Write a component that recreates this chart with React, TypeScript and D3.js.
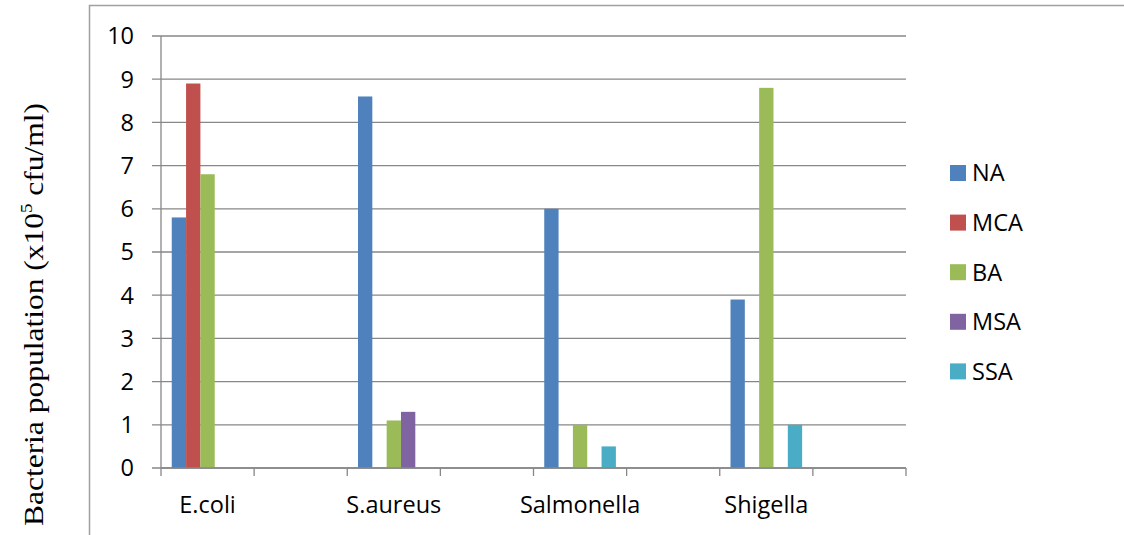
import React from "react";
import * as d3 from "d3";

const categories = ["E.coli", "", "S.aureus", "", "Salmonella", "", "Shigella", ""];
const seriesNames = ["NA", "MCA", "BA", "MSA", "SSA"];
const seriesColors = ["#4F81BD", "#C0504D", "#9BBB59", "#8064A2", "#4BACC6"];
const NA = [5.8, 0, 8.6, 0, 6.0, 0, 3.9, 0];
const MCA = [8.9, 0, 0, 0, 0, 0, 0, 0];
const BA = [6.8, 0, 1.1, 0, 1.0, 0, 8.8, 0];
const MSA = [0, 0, 1.3, 0, 0, 0, 0, 0];
const SSA = [0, 0, 0, 0, 0.5, 0, 1.0, 0];
const yTicks = [0, 1, 2, 3, 4, 5, 6, 7, 8, 9, 10];

const W = 1124;
const H = 535;
const plotL = 161;
const plotR = 906;
const plotT = 36;
const plotB = 468;
const FONT = "'Open Sans', 'Noto Sans', sans-serif";
const FS = 23.5;

export default function App() {
  const series = [NA, MCA, BA, MSA, SSA];
  const x = d3.scaleBand<string>().domain(categories.map((_, i) => String(i))).range([plotL, plotR]).paddingInner(0).paddingOuter(0);
  const y = d3.scaleLinear().domain([0, 10]).range([plotB, plotT]);
  const cw = x.bandwidth();
  const gap = 1.5;
  const bw = cw / (seriesNames.length + gap);
  const x1 = d3.scaleBand<string>().domain(seriesNames).range([gap / 2 * bw, cw - gap / 2 * bw]);

  const gridColor = "#878787";
  return (
    <svg width={W} height={H} style={{ position: "absolute", left: 0, top: 0, background: "#fff" }}>
      <rect x={89.5} y={5.5} width={W} height={H} fill="none" stroke="#a0a0a0" strokeWidth={1.5} />
      {yTicks.map((t) => (
        <g key={t}>
          <line x1={152} x2={plotR} y1={y(t)} y2={y(t)} stroke={gridColor} strokeWidth={1.3} />
          <text x={134} y={y(t)} dy="0.36em" textAnchor="end" fontFamily={FONT} fontSize={FS} fill="#000">
            {t}
          </text>
        </g>
      ))}
      <line x1={plotL} x2={plotL} y1={plotT} y2={plotB + 8} stroke={gridColor} strokeWidth={1.3} />
      {categories.map((_, i) => (
        <line key={"tk" + i} x1={x(String(i))! + cw} x2={x(String(i))! + cw} y1={plotB} y2={plotB + 8} stroke={gridColor} strokeWidth={1.3} />
      ))}
      {series.map((vals, si) =>
        vals.map((v, ci) =>
          v > 0 ? (
            <rect
              key={si + "-" + ci}
              x={x(String(ci))! + x1(seriesNames[si])!}
              y={y(v)}
              width={x1.bandwidth()}
              height={y(0) - y(v)}
              fill={seriesColors[si]}
            />
          ) : null
        )
      )}
      <line x1={plotL} x2={plotR} y1={plotB} y2={plotB} stroke={gridColor} strokeWidth={1.3} />
      {categories.map((c, i) =>
        c ? (
          <text key={"cl" + i} x={x(String(i))! + cw / 2} y={513} textAnchor="middle" fontFamily={FONT} fontSize={FS} fill="#000">
            {c}
          </text>
        ) : null
      )}
      {seriesNames.map((s, i) => (
        <g key={s} transform={`translate(950, ${173 + i * 49.6})`}>
          <rect x={0} y={-8} width={16} height={16} fill={seriesColors[i]} />
          <text x={22} y={0} dy="0.36em" fontFamily={FONT} fontSize={FS} fill="#000">
            {s}
          </text>
        </g>
      ))}
      <text
        transform={`translate(43, 103) rotate(-90) scale(1, 0.88)`}
        textAnchor="end"
        fontFamily="'Liberation Serif', 'DejaVu Serif', serif"
        fontSize={31.5}
        fill="#000"
      >
        Bacteria population (x10
        <tspan fontSize={19} dy={-12}>5</tspan>
        <tspan dy={12}> cfu/ml)</tspan>
      </text>
    </svg>
  );
}
